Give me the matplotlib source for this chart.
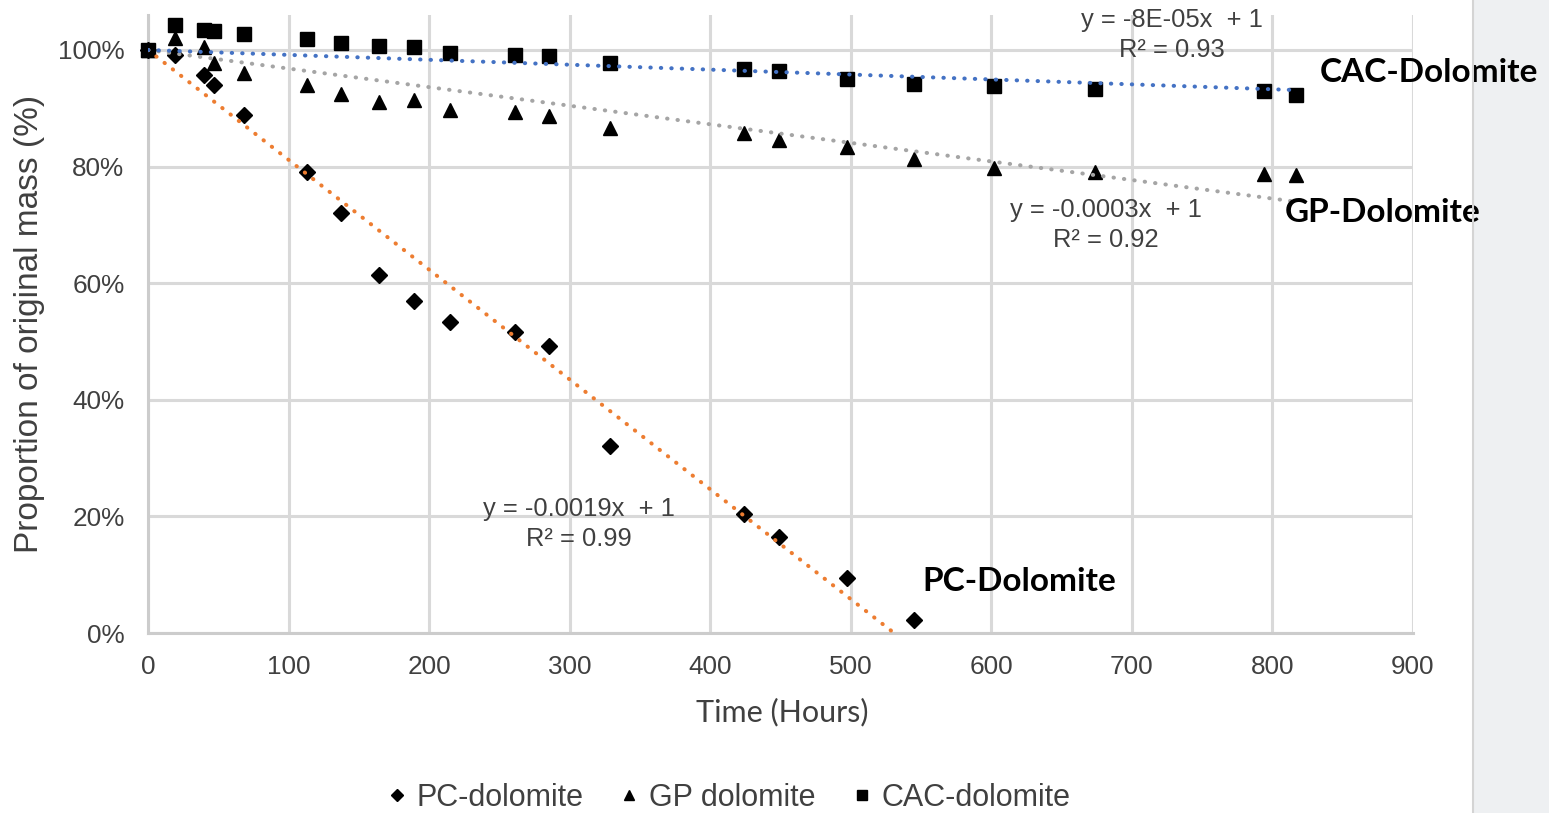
import numpy as np
import matplotlib
matplotlib.use("Agg")
import matplotlib.pyplot as plt
from matplotlib.lines import Line2D
from matplotlib.patches import Rectangle

# ---- data -------------------------------------------------------------
hours = [0, 19, 40, 47, 68, 113, 137, 164, 189, 215, 261, 285, 329,
         424, 449, 497, 545, 602, 674, 794, 817]

pc_dolomite = [1.000, 0.991, 0.957, 0.940, 0.889, 0.790, 0.721, 0.614,
               0.569, 0.533, 0.517, 0.492, 0.320, 0.204, 0.165, 0.094,
               0.022]
gp_dolomite = [1.000, 1.021, 1.005, 0.978, 0.960, 0.940, 0.924, 0.910,
               0.915, 0.897, 0.894, 0.886, 0.867, 0.857, 0.846, 0.833,
               0.813, 0.798, 0.790, 0.788, 0.786]
cac_dolomite = [1.000, 1.043, 1.034, 1.033, 1.027, 1.018, 1.012, 1.007,
                1.005, 0.994, 0.991, 0.989, 0.977, 0.968, 0.964, 0.950,
                0.942, 0.939, 0.933, 0.930, 0.922]

series_names = ["PC-dolomite", "GP dolomite", "CAC-dolomite"]
series_tags = ["PC-Dolomite", "GP-Dolomite", "CAC-Dolomite"]
r_squared = [0.99, 0.92, 0.93]
x_ticks = [0, 100, 200, 300, 400, 500, 600, 700, 800, 900]
y_ticks = [0.0, 0.2, 0.4, 0.6, 0.8, 1.0]

# ---- styling ----------------------------------------------------------
W, H = 1549, 813
markers = ["D", "^", "s"]
marker_sizes = [8.4, 10.0, 9.4]
legend_marker_sizes = [6.0, 7.5, 7.0]
trend_colors = ["#ED7D31", "#A5A5A5", "#4472C4"]
grid_color = "#d9d9d9"
tick_color = "#404040"
arial = "Liberation Sans"


def fit_through_one(t, y):
    """Least-squares slope with the intercept fixed at 1."""
    t = np.asarray(t, float)
    y = np.asarray(y, float)
    return np.sum(t * (y - 1.0)) / np.sum(t * t)


def fmt_slope(s):
    if abs(s) >= 1e-4:
        return f"{s:.4f}"
    return f"{s:.0E}"


fig = plt.figure(figsize=(W / 100, H / 100), dpi=100)
fig.patch.set_facecolor("white")

# light slide panel on the right edge
fig.add_artist(Rectangle((1473 / W, 0), (W - 1473) / W, 1,
                         transform=fig.transFigure, facecolor="#eef0f2",
                         edgecolor="none", zorder=0))
fig.add_artist(Line2D([1473 / W, 1473 / W], [0, 1], transform=fig.transFigure,
                      color="#d4d4d4", lw=1.5, zorder=1))

ax = fig.add_axes([148 / W, 1 - 633 / H, (1413 - 148) / W, (633 - 15) / H])
ax.set_xlim(0, 900)
ax.set_ylim(0, 1.06)
ax.set_xticks(x_ticks)
ax.set_yticks(y_ticks)
ax.set_yticklabels([f"{int(round(v * 100))}%" for v in y_ticks])
ax.set_axisbelow(True)
ax.grid(True, color=grid_color, lw=2.2)
for side in ("top", "right"):
    ax.spines[side].set_visible(False)
for side in ("left", "bottom"):
    ax.spines[side].set_color("#cccccc")
    ax.spines[side].set_linewidth(2.2)
ax.tick_params(length=0, labelsize=18.8, colors=tick_color)
ax.tick_params(axis="x", pad=16)
ax.tick_params(axis="y", pad=17)
for lab in ax.get_xticklabels() + ax.get_yticklabels():
    lab.set_fontfamily(arial)

all_series = [pc_dolomite, gp_dolomite, cac_dolomite]
slopes = []
for vals, mk, ms, col in zip(all_series, markers, marker_sizes, trend_colors):
    t = hours[:len(vals)]
    ax.plot(t, vals, ls="none", marker=mk, ms=ms, color="black", zorder=3,
            clip_on=False)
    s = fit_through_one(t, vals)
    slopes.append(s)
    tt = np.array([0, t[-1]], float)
    ax.plot(tt, 1 + s * tt, color=col, lw=2.9, ls=(0, (0.1, 2.5)),
            dash_capstyle="round", zorder=4)

# trendline equations
eq_pos = [(306.6, 0.187), (681.6, 0.700), (728.5, 1.026)]
for s, r2, (x, y) in zip(slopes, r_squared, eq_pos):
    ax.text(x, y, f"y = {fmt_slope(s)}x  + 1\nR² = {r2:.2f}", ha="center",
            va="center", fontsize=18.4, color="#404040", family=arial,
            linespacing=1.3, clip_on=False, zorder=5)

# series tags
tag_pos = [(550.7, 0.0875), (808.9, 0.722), (833.8, 0.962)]
for tag, (x, y) in zip(series_tags, tag_pos):
    ax.text(x, y, tag, ha="left", va="center", fontsize=24, fontweight="bold",
            family="Lato", color="black", clip_on=False, zorder=6)

# axis titles
fig.text(30 / W, 1 - 324 / H, "Proportion of original mass (%)", rotation=90,
         ha="center", va="center", fontsize=24, color=tick_color, family=arial)
fig.text(782 / W, 1 - 712 / H, "Time (Hours)", ha="center", va="center",
         fontsize=22, color=tick_color, family="Lato")

# legend
handles = [Line2D([], [], ls="none", marker=mk, color="black", ms=ms)
           for mk, ms in zip(markers, legend_marker_sizes)]
fig.legend(handles, series_names, loc="center", ncol=3, frameon=False,
           bbox_to_anchor=(729 / W, 1 - 798 / H), prop={"family": arial, "size": 22},
           labelcolor=tick_color, handlelength=0.6, handletextpad=0.35,
           columnspacing=1.2)

fig.savefig("out.png", dpi=100)
